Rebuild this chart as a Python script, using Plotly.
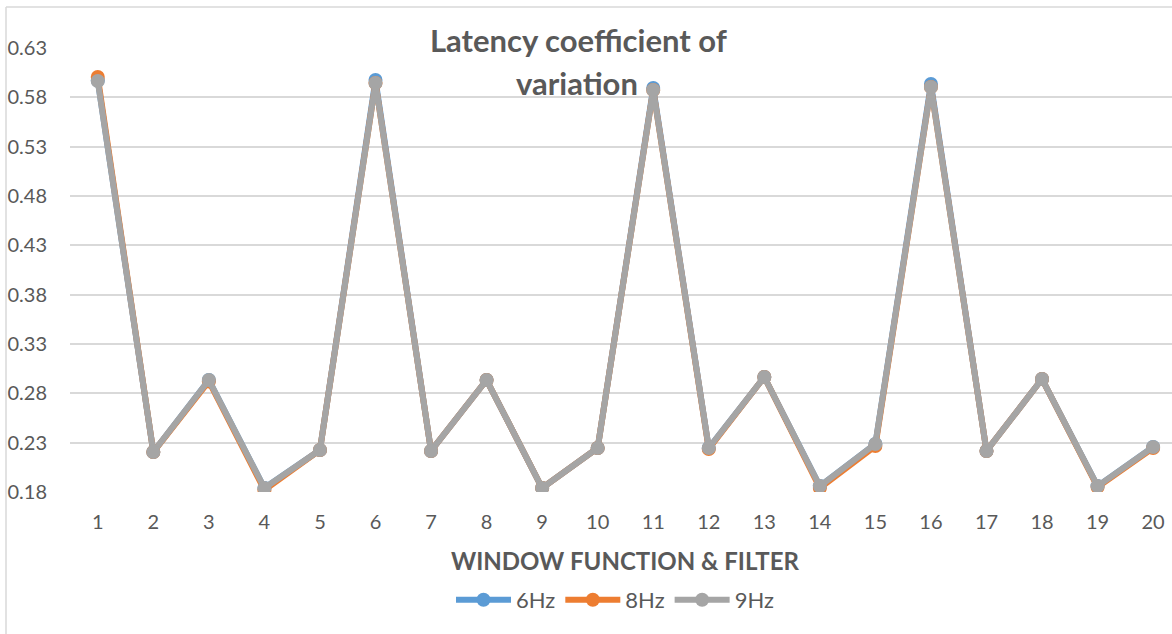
import plotly.graph_objects as go

categories = [str(i) for i in range(1, 21)]
hz6 = [0.597, 0.2205, 0.2935, 0.184, 0.2226, 0.5976, 0.2216, 0.2935, 0.184, 0.2246,
       0.5895, 0.2246, 0.2966, 0.186, 0.2287, 0.5935, 0.2216, 0.2945, 0.186, 0.2256]
hz8 = [0.6006, 0.2205, 0.292, 0.182, 0.2226, 0.5945, 0.2216, 0.2935, 0.184, 0.2246,
       0.5875, 0.2236, 0.2966, 0.184, 0.2266, 0.5905, 0.2216, 0.2945, 0.185, 0.2246]
hz9 = [0.5966, 0.2205, 0.2935, 0.184, 0.2226, 0.5945, 0.2216, 0.2935, 0.184, 0.2246,
       0.5875, 0.2246, 0.2966, 0.186, 0.2287, 0.5905, 0.2216, 0.2945, 0.186, 0.2256]
series_names = ["6Hz", "8Hz", "9Hz"]
colors = ["#5B9BD5", "#ED7D31", "#A5A5A5"]
y_ticks = [0.18, 0.23, 0.28, 0.33, 0.38, 0.43, 0.48, 0.53, 0.58, 0.63]

W, H = 1172, 634
ml, mr, mt, mb = 70, 0, 48, 142
pw, ph = W - ml - mr, H - mt - mb

def px(x):
    return (x - ml) / pw

def py(y):
    return (H - mb - y) / ph

FONT = "Lato"
TXT = "#595959"

fig = go.Figure()
for name, vals, c in zip(series_names, [hz6, hz8, hz9], colors):
    fig.add_trace(go.Scatter(
        x=list(range(1, 21)), y=vals, name=name, mode="lines+markers",
        line=dict(color=c, width=6),
        marker=dict(color=c, size=14),
    ))

fig.update_layout(
    width=W, height=H,
    margin=dict(l=ml, r=mr, t=mt, b=mb),
    paper_bgcolor="white", plot_bgcolor="white",
    font=dict(family=FONT, color=TXT, size=20),
    showlegend=True,
    legend=dict(orientation="h", x=px(615), y=py(600), xanchor="center", yanchor="middle",
                font=dict(size=22, color=TXT), itemwidth=55, tracegroupgap=0),
    xaxis=dict(
        range=[0.5, 20.34], tickmode="array", tickvals=list(range(1, 21)), ticktext=categories,
        showgrid=False, zeroline=False, showline=False, ticks="",
        tickfont=dict(size=20, color=TXT), ticklabelstandoff=16,
    ),
    yaxis=dict(
        range=[0.18, 0.63], tickmode="array", tickvals=y_ticks,
        ticktext=[f"{v:.2f}" for v in y_ticks],
        showgrid=True, gridcolor="#D9D9D9", gridwidth=1.5, zeroline=False, showline=False, ticks="",
        tickfont=dict(size=20, color=TXT), ticklabelstandoff=22,
    ),
    annotations=[
        dict(text="<b>Latency coefficient of</b>", x=px(578), y=py(40), xref="paper", yref="paper",
             showarrow=False, font=dict(size=31, color=TXT), xanchor="center", yanchor="middle"),
        dict(text="<b>variation</b>", x=px(577), y=py(83), xref="paper", yref="paper",
             showarrow=False, font=dict(size=31, color=TXT), xanchor="center", yanchor="middle"),
        dict(text="<b>WINDOW FUNCTION &amp; FILTER</b>", x=px(625), y=py(560), xref="paper", yref="paper",
             showarrow=False, font=dict(size=24, color=TXT), xanchor="center", yanchor="middle"),
    ],
    shapes=[
        dict(type="line", xref="paper", yref="paper", x0=px(6), x1=px(1172), y0=py(7), y1=py(7),
             line=dict(color="#D9D9D9", width=1.5)),
        dict(type="line", xref="paper", yref="paper", x0=px(6), x1=px(6), y0=py(7), y1=py(634),
             line=dict(color="#D9D9D9", width=1.5)),
    ],
)

fig.write_html("out.html", config={"displayModeBar": False},
               post_script="document.body.style.margin='0';")
